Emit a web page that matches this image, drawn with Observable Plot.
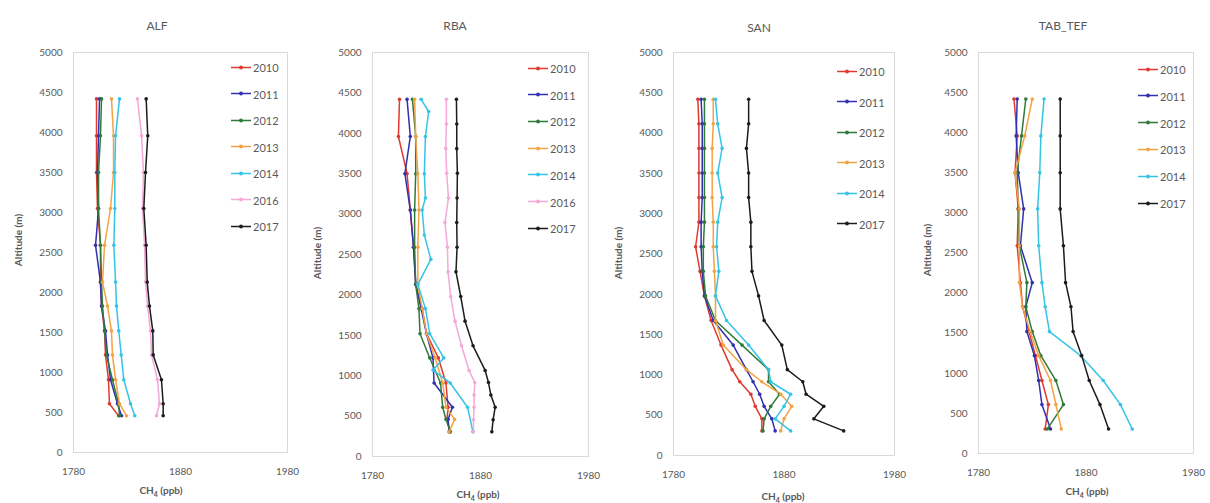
<!DOCTYPE html>
<html>
<head>
<meta charset="utf-8">
<script src="https://cdn.jsdelivr.net/npm/d3@7"></script>
<script src="https://cdn.jsdelivr.net/npm/@observablehq/plot@0.6"></script>
<style>
  html, body { margin: 0; padding: 0; background: #fff; }
  #root { position: relative; width: 1210px; height: 503px; overflow: hidden; font-family: Lato, "Open Sans", sans-serif; color: #595959; }
  .title { position: absolute; font-size: 12px; transform: translate(-50%, -50%); white-space: nowrap; }
  .ylab { position: absolute; font-size: 10px; font-weight: bold; transform: translate(-50%, -50%) rotate(-90deg); white-space: nowrap; }
  .xlab { position: absolute; font-size: 10px; font-weight: bold; transform: translate(-50%, -50%); white-space: nowrap; }
  .leg { position: absolute; font-size: 11px; display: flex; align-items: center; transform: translateY(-50%); white-space: nowrap; }
  .leg svg { margin-right: 2px; }
  .panel { position: absolute; top: 0; }
</style>
</head>
<body>
<div id="root"></div>
<script>
// ---------------- data ----------------
const years = ["2010", "2011", "2012", "2013", "2014", "2016", "2017"];
const yearColors = ["#e03a2f", "#3030b0", "#2f7a3a", "#f3a244", "#35c4e8", "#f6a8d6", "#1c1c1c"];
const xTicks = [1780, 1880, 1980];
const yTicks = [0, 500, 1000, 1500, 2000, 2500, 3000, 3500, 4000, 4500, 5000];

// ALF
const alfAlt = [4420, 3960, 3500, 3050, 2590, 2130, 1830, 1520, 1220, 910, 610, 460];
const alf2010 = [1801.5, 1801.5, 1801.5, 1802.4, 1805.2, 1805.2, 1806.2, 1809.0, 1809.9, 1812.7, 1813.6, 1822.1];
const alf2011 = [1804.3, 1803.4, 1802.4, 1803.4, 1800.6, 1805.2, 1806.2, 1809.9, 1811.8, 1814.6, 1821.1, 1824.9];
const alf2012 = [1806.2, 1805.2, 1803.4, 1803.4, 1805.2, 1806.2, 1807.1, 1809.0, 1810.8, 1816.4, 1822.1, 1823.0];
const alf2013 = [1815.5, 1817.4, 1817.4, 1814.6, 1809.0, 1807.1, 1811.8, 1815.5, 1816.4, 1819.3, 1823.0, 1829.5];
const alf2014 = [1823.0, 1819.3, 1818.6, 1818.6, 1817.7, 1819.3, 1820.2, 1822.3, 1824.6, 1827.0, 1833.3, 1837.3];
const alf2016 = [1839.8, 1843.6, 1845.4, 1844.5, 1846.4, 1847.3, 1849.2, 1852.0, 1852.9, 1858.5, 1860.4, 1857.6];
const alf2017 = [1847.9, 1849.4, 1847.3, 1845.7, 1847.9, 1848.9, 1851.0, 1854.1, 1854.5, 1862.2, 1863.8, 1863.8];

// RBA
const rbaAlt = [4420, 3960, 3500, 3050, 2590, 2130, 1830, 1520, 1220, 910, 610, 460, 305];
const rba2010 = [1805, 1804, 1812, 1815, 1818, 1820, 1826, 1830, 1841, 1848, 1850, 1849, 1852];
const rba2011 = [1812, 1815, 1810, 1815, 1818, 1820, 1825, 1830, 1836, 1837, 1854, 1850, 1851];
const rba2012 = [1817, 1820, 1820, 1819, 1819, 1820, 1823, 1824, 1833, 1843, 1845, 1848, 1852];
const rba2013 = [1819, 1820, 1822, 1823, 1822, 1822, 1826, 1830, 1838, 1845, 1848, 1856, 1851];
const rba2014Alt = [4420, 4270, 3960, 3500, 3200, 3050, 2740, 2440, 2130, 1830, 1520, 1220, 1070, 910, 610, 305];
const rba2014 = [1825, 1832, 1829, 1828, 1829, 1826, 1828, 1834, 1822, 1829, 1833, 1846, 1836, 1852, 1868, 1873];
const rbaAltFine = [4420, 4115, 3810, 3505, 3200, 2895, 2590, 2285, 1980, 1675, 1370, 1065, 915, 760, 610, 455, 305];
const rba2016 = [1848.4, 1848.4, 1847.8, 1848.7, 1850.3, 1847.1, 1849.4, 1849.9, 1852.4, 1856.4, 1862.4, 1869.4, 1874.7, 1874.1, 1874.1, 1873.5, 1873.5];
const rba2017 = [1857.7, 1858.0, 1858.0, 1858.6, 1858.3, 1858.0, 1858.3, 1857.3, 1861.7, 1865.7, 1873.1, 1884.3, 1887.4, 1889.6, 1893.6, 1891.7, 1890.5];

// SAN
const sanAlt = [4420, 4115, 3810, 3505, 3200, 2895, 2590, 2285, 1980, 1675, 1370, 1065, 915, 760, 610, 455, 305];
const san2010 = [1802, 1803, 1803, 1803, 1803, 1803, 1800, 1804, 1808, 1814, 1823, 1833, 1840, 1850, 1854, 1860, 1860];
const san2011 = [1805, 1806, 1806, 1806, 1806, 1805, 1805, 1806, 1808, 1816, 1834, 1846, 1852, 1858, 1862, 1869, 1872];
const san2012 = [1808, 1808, 1808, 1808, 1808, 1808, 1807, 1807, 1809, 1818, 1842, 1866, 1866, 1876, 1868, 1862, 1861];
const san2013 = [1816, 1816, 1815, 1815, 1815, 1816, 1816, 1817, 1818, 1818, 1825, 1846, 1860, 1877, 1887, 1880, 1877];
const san2014 = [1818, 1820, 1824, 1820, 1824, 1820, 1819, 1821, 1818, 1828, 1848, 1866, 1868, 1886, 1880, 1872, 1886];
const san2017 = [1848, 1848, 1846, 1848, 1848, 1850, 1850, 1851, 1857, 1862, 1878, 1883, 1897, 1900, 1916, 1907, 1934];

// TAB_TEF
const tabAlt = [4420, 3960, 3500, 3050, 2590, 2130, 1830, 1520, 1220, 910, 610, 305];
const tab2010 = [1813, 1816, 1814, 1817, 1816, 1819, 1821, 1827, 1833, 1839, 1845, 1842];
const tab2011 = [1816, 1815, 1817, 1822, 1819, 1830, 1824, 1825, 1832, 1836, 1839, 1847];
const tab2012 = [1824, 1820, 1816, 1817, 1818, 1825, 1824, 1830, 1838, 1852, 1859, 1844];
const tab2013 = [1830, 1823, 1814, 1818, 1818, 1818, 1821, 1828, 1836, 1847, 1852, 1857];
const tab2014 = [1841, 1838, 1837, 1835, 1836, 1839, 1842, 1846, 1875, 1896, 1912, 1923];
const tab2017 = [1856, 1856, 1856, 1856, 1859, 1861, 1866, 1868, 1876, 1883, 1893, 1901];

// ---------------- panels ----------------
const panels = [
  { name: "ALF", L: 73, R: 287, T: 52, B: 452, titleX: 157, titleY: 25, ylabX: 18, ylabY: 240, xlabX: 161, xlabY: 491,
    legX: 231, legY: 67, legDy: 26.5,
    series: [["2010", alfAlt, alf2010], ["2011", alfAlt, alf2011], ["2012", alfAlt, alf2012], ["2013", alfAlt, alf2013],
             ["2014", alfAlt, alf2014], ["2016", alfAlt, alf2016], ["2017", alfAlt, alf2017]] },
  { name: "RBA", L: 372, R: 588, T: 52, B: 456, titleX: 455, titleY: 25, ylabX: 317, ylabY: 253, xlabX: 478, xlabY: 495,
    legX: 528, legY: 68, legDy: 26.7,
    series: [["2010", rbaAlt, rba2010], ["2011", rbaAlt, rba2011], ["2012", rbaAlt, rba2012], ["2013", rbaAlt, rba2013],
             ["2014", rba2014Alt, rba2014], ["2016", rbaAltFine, rba2016], ["2017", rbaAltFine, rba2017]] },
  { name: "SAN", L: 673, R: 894, T: 52, B: 455, titleX: 759, titleY: 27, ylabX: 618, ylabY: 253, xlabX: 783, xlabY: 497,
    legX: 837, legY: 71, legDy: 30.5,
    series: [["2010", sanAlt, san2010], ["2011", sanAlt, san2011], ["2012", sanAlt, san2012], ["2013", sanAlt, san2013],
             ["2014", sanAlt, san2014], ["2017", sanAlt, san2017]] },
  { name: "TAB_TEF", L: 978, R: 1193, T: 52, B: 453, titleX: 1063, titleY: 25, ylabX: 927, ylabY: 250, xlabX: 1087, xlabY: 492,
    legX: 1138, legY: 69, legDy: 26.8,
    series: [["2010", tabAlt, tab2010], ["2011", tabAlt, tab2011], ["2012", tabAlt, tab2012], ["2013", tabAlt, tab2013],
             ["2014", tabAlt, tab2014], ["2017", tabAlt, tab2017]] }
];

const colorOf = y => yearColors[years.indexOf(y)];
const root = document.getElementById("root");
const mL = 70, mR = 12, mB = 40;

for (const p of panels) {
  const rows = [];
  for (const [yr, alts, vals] of p.series) {
    alts.forEach((a, i) => rows.push({ year: yr, alt: a, ch4: vals[i] }));
  }
  const chart = Plot.plot({
    width: mL + (p.R - p.L) + mR,
    height: p.B + mB,
    marginLeft: mL, marginRight: mR, marginTop: p.T, marginBottom: mB,
    style: { fontFamily: "Lato, 'Open Sans', sans-serif", fontSize: "10px", color: "#595959", background: "transparent", overflow: "visible" },
    x: { domain: [1780, 1980], ticks: xTicks, tickFormat: "d", tickSize: 0, tickPadding: 15, label: null },
    y: { domain: [0, 5000], ticks: yTicks, tickFormat: "d", tickSize: 0, tickPadding: 11, label: null },
    color: { domain: years, range: yearColors },
    marks: [
      Plot.frame({ stroke: "#d9d9d9" }),
      Plot.line(rows, { x: "ch4", y: "alt", z: "year", stroke: "year", strokeWidth: 1.5 }),
      Plot.dot(rows, { x: "ch4", y: "alt", fill: "year", r: 1.8, stroke: "none" })
    ]
  });
  chart.classList.add("panel");
  chart.style.left = (p.L - mL) + "px";
  root.appendChild(chart);

  const t = document.createElement("div");
  t.className = "title"; t.textContent = p.name;
  t.style.left = p.titleX + "px"; t.style.top = p.titleY + "px";
  root.appendChild(t);

  const yl = document.createElement("div");
  yl.className = "ylab"; yl.textContent = "Altitude (m)";
  yl.style.left = p.ylabX + "px"; yl.style.top = p.ylabY + "px";
  root.appendChild(yl);

  const xl = document.createElement("div");
  xl.className = "xlab"; xl.innerHTML = "CH<sub style='font-size:7px'>4</sub> (ppb)";
  xl.style.left = p.xlabX + "px"; xl.style.top = p.xlabY + "px";
  root.appendChild(xl);

  p.series.forEach(([yr], i) => {
    const c = colorOf(yr);
    const lg = document.createElement("div");
    lg.className = "leg";
    lg.style.left = p.legX + "px";
    lg.style.top = (p.legY + i * p.legDy) + "px";
    lg.innerHTML = `<svg width="20" height="6"><line x1="0" y1="3" x2="20" y2="3" stroke="${c}" stroke-width="1.5"/><circle cx="10" cy="3" r="1.9" fill="${c}"/></svg><span>${yr}</span>`;
    root.appendChild(lg);
  });
}
</script>
</body>
</html>
